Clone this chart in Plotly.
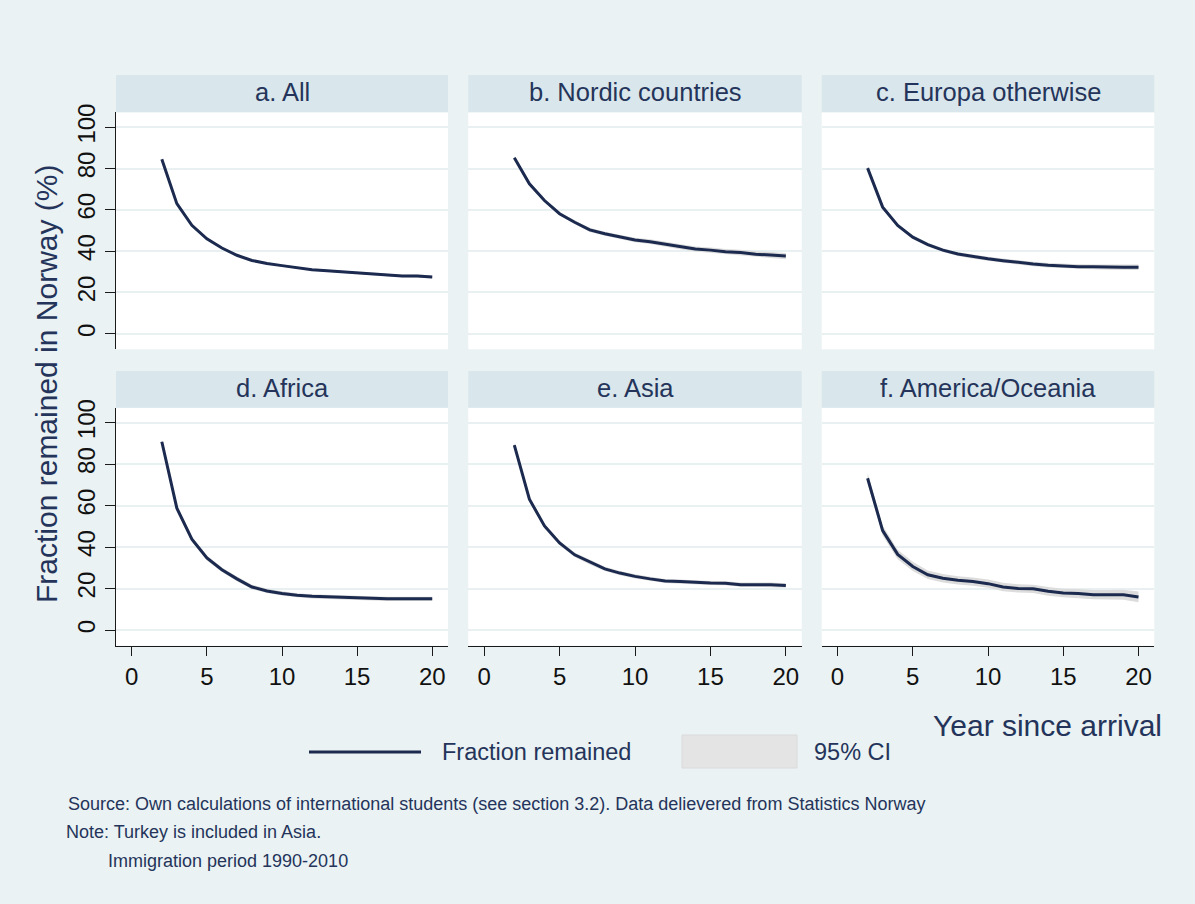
import plotly.graph_objects as go

# ---- data -------------------------------------------------------------
years = list(range(2, 21))

panel_titles = ["a. All", "b. Nordic countries", "c. Europa otherwise",
                "d. Africa", "e. Asia", "f. America/Oceania"]

frac_all = [84.5, 63.0, 52.5, 46.0, 41.5, 38.0, 35.5, 34.0, 33.0, 32.0,
            31.0, 30.5, 30.0, 29.5, 29.0, 28.5, 28.0, 28.0, 27.5]
frac_nordic = [85.2, 72.6, 64.5, 58.1, 54.0, 50.3, 48.4, 46.8, 45.4, 44.6,
               43.3, 42.1, 41.0, 40.5, 39.7, 39.3, 38.5, 38.1, 37.6]
frac_europe = [80.2, 61.3, 52.4, 46.8, 43.2, 40.5, 38.6, 37.3, 36.3, 35.4,
               34.5, 33.8, 33.2, 32.8, 32.5, 32.4, 32.2, 32.2, 32.2]
frac_africa = [90.8, 58.8, 43.8, 34.8, 29.1, 24.7, 20.8, 18.9, 17.7, 16.8,
               16.3, 16.0, 15.7, 15.4, 15.1, 15.1, 15.1, 15.1, 15.1]
frac_asia = [89.2, 63.1, 50.2, 42.0, 36.3, 32.7, 29.5, 27.5, 25.9, 24.7,
             23.7, 23.4, 23.0, 22.7, 22.6, 21.9, 21.9, 21.9, 21.5]
frac_amer = [73.2, 48.0, 36.5, 30.7, 26.7, 25.0, 24.0, 23.4, 22.4, 20.8,
             20.1, 19.9, 18.7, 17.9, 17.6, 17.1, 17.1, 17.1, 16.0]

# half-width of the 95% confidence interval
ci_all = [0.4, 0.4, 0.4, 0.4, 0.4, 0.5, 0.5, 0.5, 0.5, 0.5,
          0.5, 0.5, 0.6, 0.6, 0.6, 0.6, 0.6, 0.7, 0.7]
ci_nordic = [0.8, 0.8, 0.8, 0.9, 0.9, 1.0, 1.0, 1.0, 1.1, 1.1,
             1.2, 1.2, 1.2, 1.3, 1.3, 1.4, 1.4, 1.5, 1.5]
ci_europe = [0.8, 0.8, 0.8, 0.8, 0.9, 0.9, 0.9, 1.0, 1.0, 1.0,
             1.0, 1.1, 1.1, 1.1, 1.2, 1.2, 1.2, 1.3, 1.3]
ci_africa = [1.2, 1.2, 1.2, 1.2, 1.1, 1.1, 1.1, 1.0, 1.0, 1.0,
             1.0, 1.0, 1.0, 1.0, 1.0, 1.0, 1.0, 1.0, 1.0]
ci_asia = [1.2, 1.2, 1.2, 1.1, 1.1, 1.1, 1.0, 1.0, 1.0, 1.0,
           1.0, 1.0, 1.0, 1.0, 1.0, 1.0, 1.0, 1.1, 1.1]
ci_amer = [2.5, 2.4, 2.3, 2.2, 2.1, 2.0, 2.0, 2.0, 2.0, 2.0,
           2.0, 2.0, 2.1, 2.1, 2.2, 2.2, 2.3, 2.4, 2.6]

series = [frac_all, frac_nordic, frac_europe, frac_africa, frac_asia, frac_amer]
cis = [ci_all, ci_nordic, ci_europe, ci_africa, ci_asia, ci_amer]

y_ticks = [0, 20, 40, 60, 80, 100]
x_ticks = [0, 5, 10, 15, 20]

# ---- styling ----------------------------------------------------------
W, H = 1195, 904
BG = "#EAF2F3"
STRIP = "#D9E6EB"
GRID = "#E8F0F2"
NAVY = "#1B2A4E"
TEXT = "#24345A"
CI_FILL = "#DCDCDC"
FONT = "Arial, Liberation Sans, sans-serif"
TICK_FONT = "Liberation Sans Narrow, Arial Narrow, Arial, sans-serif"


def px_x(p):
    return p / W


def px_y(p):
    return 1 - p / H


col_px = [(116, 448), (468.3, 801.7), (821.7, 1154.3)]
row_px = [(112.3, 349.3), (407.7, 645.7)]
strip_px = [(75, 112.3), (371, 407.7)]

fig = go.Figure()
layout_axes = {}
shapes = []
annotations = []

for i in range(6):
    r, c = divmod(i, 3)
    n = i + 1
    xa = "x" if n == 1 else f"x{n}"
    ya = "y" if n == 1 else f"y{n}"
    est = series[i]
    hw = cis[i]
    lo = [e - h for e, h in zip(est, hw)]
    hi = [e + h for e, h in zip(est, hw)]

    fig.add_trace(go.Scatter(x=years, y=lo, mode="lines", line=dict(width=0, color=CI_FILL),
                             xaxis=xa, yaxis=ya, showlegend=False, hoverinfo="skip"))
    fig.add_trace(go.Scatter(x=years, y=hi, mode="lines", line=dict(width=0, color=CI_FILL),
                             fill="tonexty", fillcolor=CI_FILL,
                             xaxis=xa, yaxis=ya, showlegend=False, hoverinfo="skip"))
    fig.add_trace(go.Scatter(x=years, y=est, mode="lines", line=dict(width=3, color=NAVY),
                             xaxis=xa, yaxis=ya, showlegend=False))

    x0, x1 = col_px[c]
    y0, y1 = row_px[r]
    bottom = r == 1
    left = c == 0
    xkey = "xaxis" if n == 1 else f"xaxis{n}"
    ykey = "yaxis" if n == 1 else f"yaxis{n}"
    layout_axes[xkey] = dict(
        domain=[px_x(x0), px_x(x1)], anchor=ya, range=[-1.05, 21.05],
        showgrid=False, zeroline=False, automargin=False,
        showline=bottom, linecolor="#1a1a1a", linewidth=1.3,
        ticks="outside" if bottom else "", ticklen=9, tickwidth=1.3, tickcolor="#1a1a1a",
        tickvals=x_ticks, showticklabels=bottom,
        tickfont=dict(size=24, color="#111111", family=TICK_FONT),
    )
    layout_axes[ykey] = dict(
        domain=[px_y(y1), px_y(y0)], anchor=xa, range=[-7.5, 107.2],
        showgrid=True, gridcolor=GRID, gridwidth=1.5, zeroline=False, automargin=False,
        showline=left, linecolor="#1a1a1a", linewidth=1.3,
        ticks="outside" if left else "", ticklen=10, tickwidth=1.3, tickcolor="#1a1a1a",
        tickvals=y_ticks, showticklabels=left, tickangle=-90,
        tickfont=dict(size=24, color="#111111", family=TICK_FONT),
    )

    # panel title strip
    s0, s1 = strip_px[r]
    shapes.append(dict(type="rect", xref="paper", yref="paper",
                       x0=px_x(x0), x1=px_x(x1), y0=px_y(s1), y1=px_y(s0),
                       fillcolor=STRIP, line=dict(width=0), layer="below"))
    annotations.append(dict(text=panel_titles[i], xref="paper", yref="paper",
                            x=px_x((x0 + x1) / 2), y=px_y((s0 + s1) / 2 - 1.5),
                            xanchor="center", yanchor="middle", showarrow=False,
                            font=dict(size=25.5, color=TEXT, family=FONT)))

# axis titles
annotations.append(dict(text="Fraction remained in Norway (%)", xref="paper", yref="paper",
                        x=px_x(46), y=px_y(384), textangle=-90, showarrow=False,
                        xanchor="center", yanchor="middle",
                        font=dict(size=30, color=TEXT, family=FONT)))
annotations.append(dict(text="Year since arrival", xref="paper", yref="paper",
                        x=px_x(1164), y=px_y(725), showarrow=False,
                        xanchor="right", yanchor="middle",
                        font=dict(size=30, color=TEXT, family=FONT)))

# legend keys
shapes.append(dict(type="line", xref="paper", yref="paper",
                   x0=px_x(309), x1=px_x(421), y0=px_y(752), y1=px_y(752),
                   line=dict(color=NAVY, width=3)))
shapes.append(dict(type="rect", xref="paper", yref="paper",
                   x0=px_x(682), x1=px_x(797), y0=px_y(768), y1=px_y(735),
                   fillcolor="#E4E4E4", line=dict(color="#DADADA", width=1)))
annotations.append(dict(text="Fraction remained", xref="paper", yref="paper",
                        x=px_x(440), y=px_y(752), showarrow=False,
                        xanchor="left", yanchor="middle",
                        font=dict(size=23.5, color=TEXT, family=FONT)))
annotations.append(dict(text="95% CI", xref="paper", yref="paper",
                        x=px_x(812), y=px_y(752), showarrow=False,
                        xanchor="left", yanchor="middle",
                        font=dict(size=23.5, color=TEXT, family=FONT)))

# notes
notes = [
    ("Source: Own calculations of international students (see section 3.2). Data delievered from Statistics Norway", 66, 804),
    ("Note: Turkey is included in Asia.", 64, 832),
    ("Immigration period 1990-2010", 106, 861),
]
for txt, nx, ny in notes:
    annotations.append(dict(text=txt, xref="paper", yref="paper",
                            x=px_x(nx), y=px_y(ny), showarrow=False,
                            xanchor="left", yanchor="middle",
                            font=dict(size=18, color=TEXT, family=FONT)))

fig.update_layout(
    width=W, height=H, autosize=False,
    margin=dict(l=0, r=0, t=0, b=0),
    paper_bgcolor=BG, plot_bgcolor="white",
    showlegend=False,
    shapes=shapes, annotations=annotations,
    font=dict(family=FONT, color=TEXT),
    **layout_axes,
)

fig.write_html("out.html")
